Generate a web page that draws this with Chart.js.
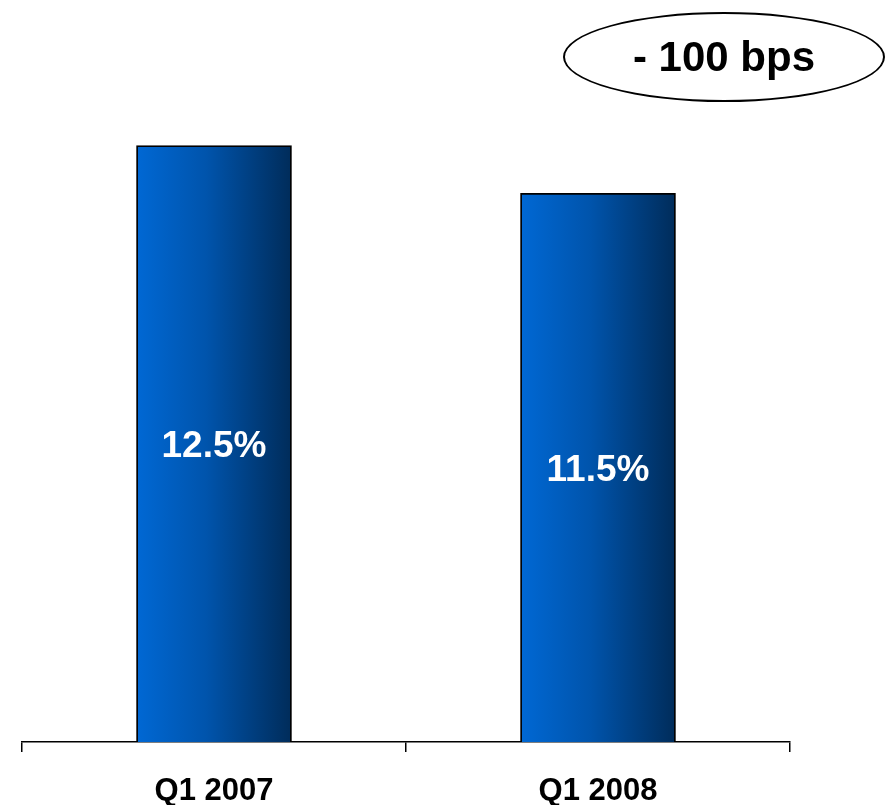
<!DOCTYPE html>
<html>
<head>
<meta charset="utf-8">
<script src="https://cdn.jsdelivr.net/npm/chart.js@4.4.1/dist/chart.umd.min.js"></script>
<style>
  html, body { margin: 0; padding: 0; background: #fff; }
  #wrap { position: relative; width: 890px; height: 805px; }
  #badge {
    position: absolute; left: 563px; top: 12px; width: 322px; height: 90px;
    box-sizing: border-box; border: 2px solid #000; border-radius: 50%;
    display: flex; align-items: center; justify-content: center;
    font-family: "Liberation Sans", Arial, sans-serif; font-weight: bold; font-size: 42px; color: #000;
  }
</style>
</head>
<body>
<div id="wrap">
  <canvas id="c" width="890" height="805"></canvas>
  <div id="badge">- 100 bps</div>
</div>
<script>
const categories = ["Q1 2007", "Q1 2008"];
const values = [12.5, 11.5];
const valueLabels = ["12.5%", "11.5%"];

const BAR_W = 155;

function barGradient(ctx) {
  const chart = ctx.chart;
  const xs = chart.scales && chart.scales.x;
  if (!xs || !chart.chartArea || ctx.dataIndex === undefined) return '#0060c0';
  const cx = xs.getPixelForValue(ctx.dataIndex);
  const g = chart.ctx.createLinearGradient(cx - BAR_W / 2, 0, cx + BAR_W / 2, 0);
  g.addColorStop(0, '#0068d4');
  g.addColorStop(0.45, '#0054ac');
  g.addColorStop(1, '#002c5a');
  return g;
}

const labelPlugin = {
  id: 'barLabels',
  afterDatasetsDraw(chart) {
    const c = chart.ctx;
    const meta = chart.getDatasetMeta(0);
    c.save();
    c.fillStyle = '#fff';
    c.font = 'bold 37px "Liberation Sans", Arial, sans-serif';
    c.textAlign = 'center';
    c.textBaseline = 'middle';
    meta.data.forEach((el, i) => {
      const y = (el.y + el.base) / 2 + 3;
      c.fillText(valueLabels[i], el.x, y);
    });
    c.restore();
  }
};

new Chart(document.getElementById('c'), {
  type: 'bar',
  data: {
    labels: categories,
    datasets: [{
      data: values,
      backgroundColor: barGradient,
      borderColor: '#000',
      borderWidth: 1.8,
      borderSkipped: 'bottom',
      barThickness: BAR_W
    }]
  },
  options: {
    responsive: false,
    animation: false,
    devicePixelRatio: 1,
    layout: { padding: { left: 22, right: 100, top: 74, bottom: 0 } },
    plugins: { legend: { display: false }, tooltip: { enabled: false } },
    scales: {
      x: {
        offset: true,
        afterFit(scale) { scale.height = 63; },
        grid: {
          offset: true,
          drawOnChartArea: false,
          drawTicks: true,
          tickLength: 10,
          color: '#000',
          lineWidth: 1.5
        },
        border: { display: true, color: '#000', width: 1.5 },
        ticks: {
          color: '#000',
          padding: 21,
          font: { family: '"Liberation Sans", Arial, sans-serif', weight: 'bold', size: 31 }
        }
      },
      y: {
        display: false,
        min: 0,
        max: 14
      }
    }
  },
  plugins: [labelPlugin]
});
</script>
</body>
</html>
